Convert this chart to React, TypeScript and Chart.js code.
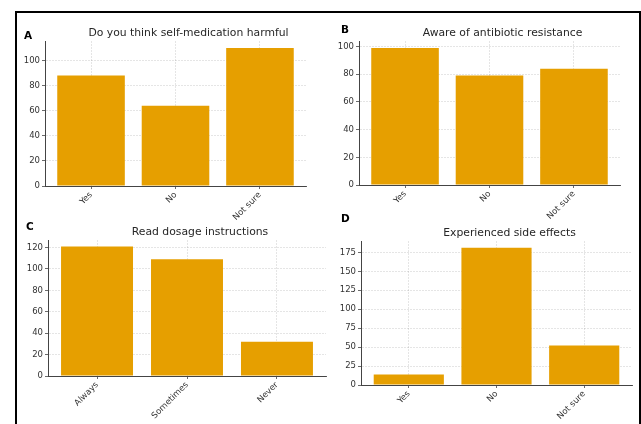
import React, { useEffect, useRef } from "react";
import { Chart, registerables } from "chart.js";
Chart.register(...registerables);

const categoriesA = ["Yes", "No", "Not sure"];
const valuesA = [88, 64, 110];
const categoriesB = ["Yes", "No", "Not sure"];
const valuesB = [99, 79, 84];
const categoriesC = ["Always", "Sometimes", "Never"];
const valuesC = [121, 109, 32];
const categoriesD = ["Yes", "No", "Not sure"];
const valuesD = [14, 181, 52];

const titles = [
  "Do you think self-medication harmful",
  "Aware of antibiotic resistance",
  "Read dosage instructions",
  "Experienced side effects",
];
const letters = ["A", "B", "C", "D"];
const yMaxes = [115.5, 104, 127, 190];
const ySteps = [20, 20, 20, 25];

const BAR = "#E69F00";
const FONT = "'DejaVu Sans', Verdana, sans-serif";

type PanelCfg = {
  categories: string[];
  values: number[];
  title: string;
  letter: string;
  yMax: number;
  yStep: number;
  box: [number, number, number, number]; // left, top, width, height
  plot: [number, number, number, number]; // left, top, right, bottom (page coords)
  letterPos: [number, number];
};

const panels: PanelCfg[] = [
  {
    categories: categoriesA, values: valuesA, title: titles[0], letter: letters[0],
    yMax: yMaxes[0], yStep: ySteps[0],
    box: [17, 13, 300, 215], plot: [45, 41, 306, 186], letterPos: [24, 39],
  },
  {
    categories: categoriesB, values: valuesB, title: titles[1], letter: letters[1],
    yMax: yMaxes[1], yStep: ySteps[1],
    box: [330, 13, 306, 215], plot: [359, 41, 620, 185], letterPos: [341, 33],
  },
  {
    categories: categoriesC, values: valuesC, title: titles[2], letter: letters[2],
    yMax: yMaxes[2], yStep: ySteps[2],
    box: [17, 212, 313, 211], plot: [48, 240, 326, 376], letterPos: [26, 230],
  },
  {
    categories: categoriesD, values: valuesD, title: titles[3], letter: letters[3],
    yMax: yMaxes[3], yStep: ySteps[3],
    box: [330, 208, 306, 215], plot: [361, 241, 632, 385], letterPos: [341, 222],
  },
];

function Panel({ p }: { p: PanelCfg }) {
  const ref = useRef<HTMLCanvasElement | null>(null);
  useEffect(() => {
    const canvas = ref.current!;
    const [bx, by, bw, bh] = p.box;
    const [pl, pt, pr, pb] = p.plot;
    const yWidth = pl - bx;
    const padTop = pt - by;
    const padRight = bx + bw - pr;
    const xHeight = by + bh - pb;

    const textPlugin = {
      id: "panelText",
      afterDraw(chart: any) {
        const ctx = chart.ctx;
        const ca = chart.chartArea;
        ctx.save();
        ctx.fillStyle = "#262626";
        ctx.font = `10.8px ${FONT}`;
        ctx.textAlign = "center";
        ctx.textBaseline = "alphabetic";
        ctx.fillText(p.title, (ca.left + ca.right) / 2 + 13, ca.top - 5);
        ctx.fillStyle = "#000";
        ctx.font = `bold 10.5px ${FONT}`;
        ctx.textAlign = "left";
        ctx.fillText(p.letter, p.letterPos[0] - bx, p.letterPos[1] - by);
        ctx.restore();
      },
    };

    const gridCommon = {
      color: "rgba(0,0,0,0.13)",
      lineWidth: 0.8,
      tickColor: "#444",
      tickLength: 3,
      tickWidth: 0.8,
      offset: false,
    };

    const chart = new Chart(canvas, {
      type: "bar",
      data: {
        datasets: [
          {
            data: p.values.map((v, i) => ({ x: i, y: v })),
            backgroundColor: BAR,
            borderWidth: 0,
            categoryPercentage: 0.8,
            barPercentage: 1.0,
          },
        ],
      },
      options: {
        animation: false,
        responsive: false,
        maintainAspectRatio: false,
        layout: { padding: { left: 0, top: padTop, right: padRight, bottom: 0 } },
        plugins: {
          legend: { display: false },
          tooltip: { enabled: false },
          title: { display: false },
        },
        scales: {
          x: {
            type: "linear",
            min: -0.545,
            max: 2.545,
            offset: false,
            z: 1,
            afterBuildTicks: (s: any) => {
              s.ticks = p.categories.map((_, i) => ({ value: i }));
            },
            afterFit: (s: any) => {
              s.height = xHeight;
            },
            ticks: {
              callback: (v: any) => p.categories[v as number] ?? "",
              minRotation: 45,
              maxRotation: 45,
              autoSkip: false,
              padding: 1,
              color: "#333",
              font: { family: FONT, size: 8.5 },
            },
            grid: gridCommon,
            border: { display: true, color: "#444", width: 1, dash: [2, 1] },
          },
          y: {
            type: "linear",
            min: 0,
            max: p.yMax,
            z: 1,
            afterFit: (s: any) => {
              s.width = yWidth;
            },
            ticks: {
              stepSize: p.yStep,
              includeBounds: false,
              padding: 2,
              color: "#333",
              font: { family: FONT, size: 8.5 },
            },
            grid: gridCommon,
            border: { display: true, color: "#444", width: 1, dash: [2, 1] },
          },
        },
      },
      plugins: [textPlugin],
    } as any);
    return () => chart.destroy();
  }, []);
  const [bx, by, bw, bh] = p.box;
  return (
    <canvas
      ref={ref}
      width={bw}
      height={bh}
      style={{ position: "absolute", left: bx, top: by, width: bw, height: bh }}
    />
  );
}

export default function App() {
  return (
    <div
      style={{
        position: "fixed",
        left: 0,
        top: 0,
        width: 641,
        height: 424,
        overflow: "hidden",
        background: "#fff",
      }}
    >
      <div
        style={{
          position: "absolute",
          left: 15,
          top: 11,
          width: 626,
          height: 430,
          border: "2px solid #000",
          boxSizing: "border-box",
        }}
      />
      {panels.map((p, i) => (
        <Panel key={i} p={p} />
      ))}
    </div>
  );
}
